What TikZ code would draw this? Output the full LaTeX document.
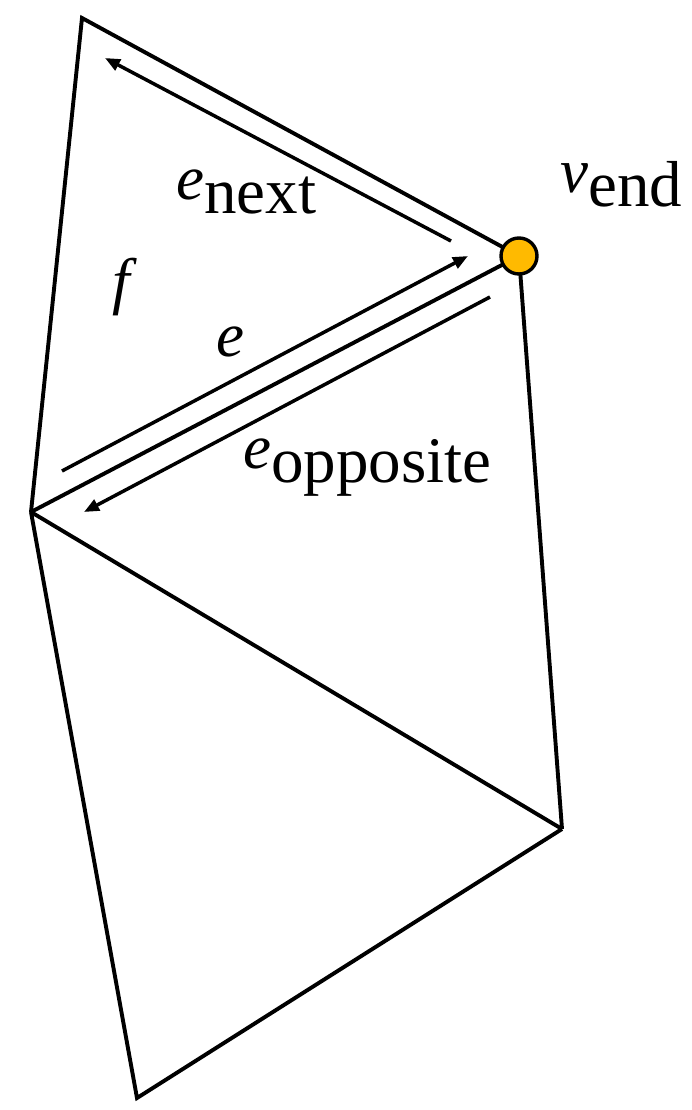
\documentclass[tikz,border=0pt]{standalone}
\usepackage{fontspec}
\setmainfont{Liberation Serif}
\usetikzlibrary{arrows.meta}
\definecolor{vgold}{HTML}{FFBA00}
\newcommand{\lblmain}[1]{{\fontsize{63}{63}\selectfont\itshape #1}}
\newcommand{\lblsub}[1]{\raisebox{-14pt}{\fontsize{65}{65}\selectfont #1}}
\tikzset{
  edge/.style={line width=3.9pt, line join=miter},
  harrow/.style={line width=3.5pt, -{Triangle[length=15pt,width=12pt]}},
  vtx/.style={circle, draw=black, line width=3.4pt, fill=vgold, minimum size=36pt, inner sep=0pt},
  lbl/.style={anchor=base west, inner sep=0pt}
}
\begin{document}
\begin{tikzpicture}[x=1pt,y=-1pt]
\useasboundingbox (0,0) rectangle (692,1110);
\coordinate (A) at (82,18);
\coordinate (C) at (31,512);
\coordinate (D) at (562,829);
\coordinate (E) at (137,1098);
\coordinate (Bc) at (519,256);
% edges
\draw[edge] (C) -- (A) -- (Bc);
\draw[edge] (C) -- (Bc);
\draw[edge] (Bc) -- (D);
\draw[edge] (C) -- (D);
\draw[edge] (C) -- (E) -- (D);
\node[vtx] (B) at (Bc) {};
% half-edge arrows
\coordinate (n1) at (451,241);
\coordinate (n2) at (105,58);
\coordinate (e1) at (62,471);
\coordinate (e2) at (468,256);
\coordinate (o1) at (490,297);
\coordinate (o2) at (84,512);
\draw[harrow] (n1) -- (n2);
\draw[harrow] (e1) -- (e2);
\draw[harrow] (o1) -- (o2);
% labels
\node[lbl] (lnext) at (176,199) {\lblmain{e}\lblsub{next}};
\node[lbl] (lend) at (560,193) {\lblmain{v}\lblsub{end}};
\node[lbl] (lf) at (112,302) {\lblmain{f}};
\node[lbl] (le) at (216,356) {\lblmain{e}};
\node[lbl] (lopp) at (243,468) {\lblmain{e}\lblsub{opposite}};
\end{tikzpicture}
\end{document}
